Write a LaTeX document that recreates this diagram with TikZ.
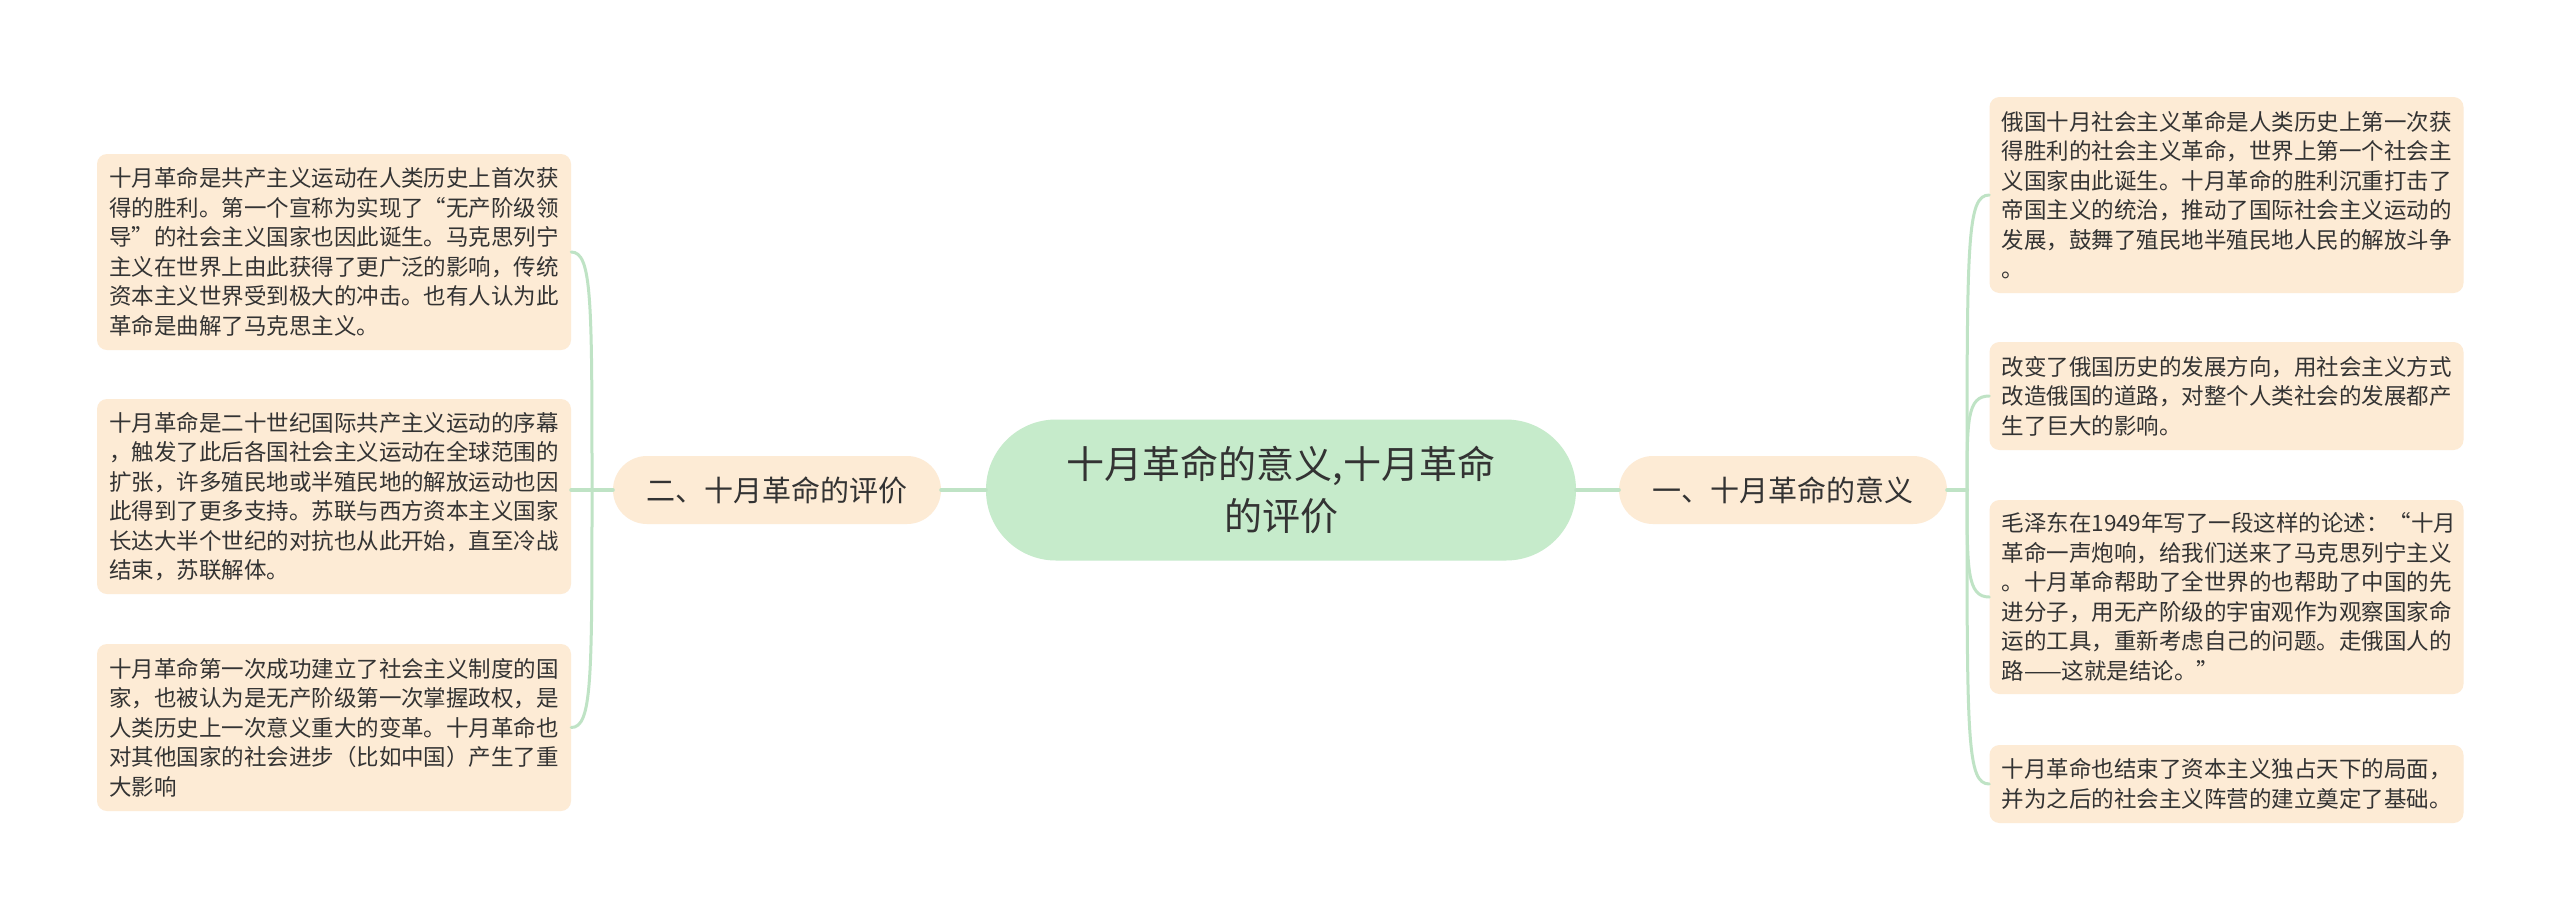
\documentclass[tikz,border=0pt]{standalone}
\usepackage{fontspec}
\setmainfont{Noto Sans CJK SC}
\definecolor{leafc}{HTML}{FDEBD5}
\definecolor{rootc}{HTML}{C6EBCB}
\definecolor{linec}{HTML}{BFE3C5}
\definecolor{txt}{HTML}{333333}
\tikzset{
  leaf/.style={fill=leafc, rounded corners=10pt, text width=450pt, align=left, inner xsep=12pt, inner ysep=0pt, text=txt, font=\fontsize{22.5}{29.5}\selectfont},
  branch/.style={fill=leafc, rounded corners=34pt, minimum width=328pt, minimum height=68pt, inner sep=0pt, text=txt, font=\fontsize{29}{35}\selectfont},
  root/.style={fill=rootc, rounded corners=70pt, minimum width=590pt, minimum height=141pt, inner sep=0pt, align=center, text=txt, font=\fontsize{38}{52}\selectfont},
  conn/.style={draw=linec, line width=4pt, line cap=round}
}
\begin{document}
\begin{tikzpicture}[x=1pt,y=-1pt]
\useasboundingbox (0,0) rectangle (2560,922);
\fill[white] (0,0) rectangle (2560,922);

\node[root] (c) at (1281,490) {十月革命的意义,十月革命\\的评价};
\node[branch] (b2) at (777,490) {二、十月革命的评价};
\node[branch] (b1) at (1783,490) {一、十月革命的意义};

\node[leaf, minimum height=196pt] (l1) at (334,252) {十月革命是共产主义运动在人类历史上首次获\\得的胜利。第一个宣称为实现了“无产阶级领\\导”的社会主义国家也因此诞生。马克思列宁\\主义在世界上由此获得了更广泛的影响，传统\\资本主义世界受到极大的冲击。也有人认为此\\革命是曲解了马克思主义。};
\node[leaf, minimum height=195pt] (l2) at (334,496.5) {十月革命是二十世纪国际共产主义运动的序幕\\，触发了此后各国社会主义运动在全球范围的\\扩张，许多殖民地或半殖民地的解放运动也因\\此得到了更多支持。苏联与西方资本主义国家\\长达大半个世纪的对抗也从此开始，直至冷战\\结束，苏联解体。};
\node[leaf, minimum height=167pt] (l3) at (334,727.5) {十月革命第一次成功建立了社会主义制度的国\\家，也被认为是无产阶级第一次掌握政权，是\\人类历史上一次意义重大的变革。十月革命也\\对其他国家的社会进步（比如中国）产生了重\\大影响};

\node[leaf, minimum height=196pt] (r1) at (2226.5,195) {俄国十月社会主义革命是人类历史上第一次获\\得胜利的社会主义革命，世界上第一个社会主\\义国家由此诞生。十月革命的胜利沉重打击了\\帝国主义的统治，推动了国际社会主义运动的\\发展，鼓舞了殖民地半殖民地人民的解放斗争\\。};
\node[leaf, minimum height=108pt] (r2) at (2226.5,396) {改变了俄国历史的发展方向，用社会主义方式\\改造俄国的道路，对整个人类社会的发展都产\\生了巨大的影响。};
\node[leaf, minimum height=194pt] (r3) at (2226.5,597) {毛泽东在1949年写了一段这样的论述：“十月\\革命一声炮响，给我们送来了马克思列宁主义\\。十月革命帮助了全世界的也帮助了中国的先\\进分子，用无产阶级的宇宙观作为观察国家命\\运的工具，重新考虑自己的问题。走俄国人的\\路——这就是结论。”};
\node[leaf, minimum height=78pt] (r4) at (2226.5,784) {十月革命也结束了资本主义独占天下的局面，\\并为之后的社会主义阵营的建立奠定了基础。};

\coordinate (ls) at (592,490);
\coordinate (rs) at (1967,490);

\draw[conn] (c.west) -- (b2.east);
\draw[conn] (c.east) -- (b1.west);

\draw[conn] (b2.west) -- (ls);
\draw[conn] (ls) -- (ls -| l2.east);
\draw[conn, line width=3pt] (ls) .. controls (592,300) and (592,252) .. (l1.east);
\draw[conn, line width=3pt] (ls) .. controls (592,680) and (592,727.5) .. (l3.east);

\draw[conn] (b1.east) -- (rs);
\draw[conn, line width=3pt] (rs) .. controls (1967,240) and (1967,195) .. (r1.west);
\draw[conn, line width=3pt] (rs) .. controls (1967,420) and (1967,396) .. (r2.west);
\draw[conn, line width=3pt] (rs) .. controls (1967,570) and (1967,597) .. (r3.west);
\draw[conn, line width=3pt] (rs) .. controls (1967,740) and (1967,784) .. (r4.west);
\end{tikzpicture}
\end{document}
